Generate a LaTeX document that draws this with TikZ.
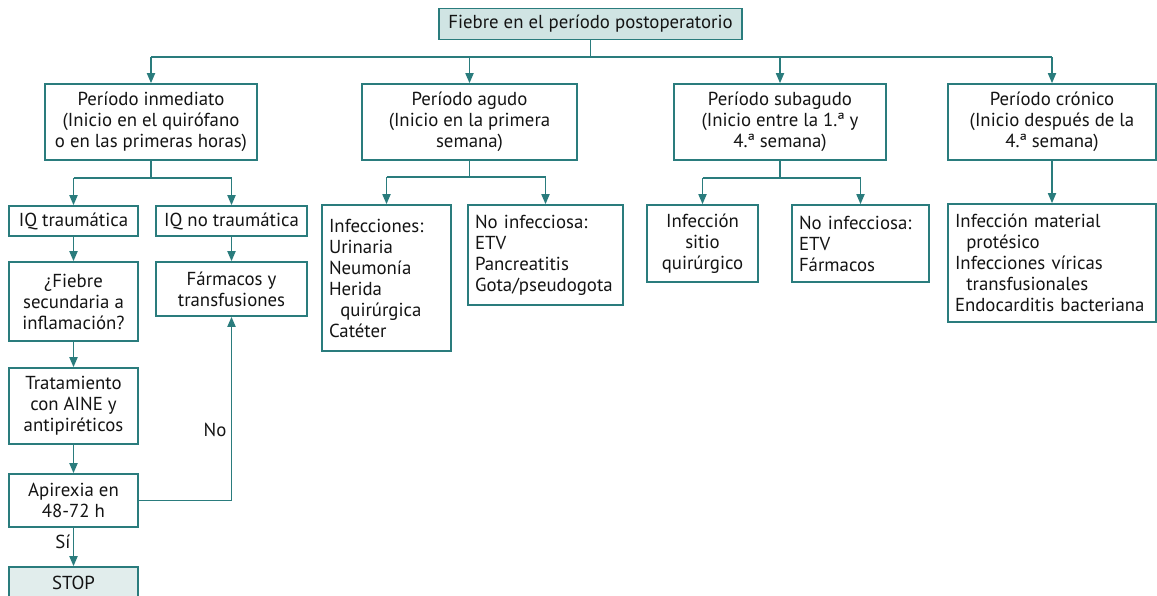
\documentclass[tikz,border=0pt]{standalone}
\usepackage{fontspec}
\setmainfont{PT Sans}
\usetikzlibrary{arrows.meta}
\definecolor{tealline}{HTML}{2A7C7D}
\definecolor{tealfill}{HTML}{D0E4E3}
\definecolor{stopfill}{HTML}{E1EDEC}
\definecolor{ink}{HTML}{141414}

\begin{document}
\begin{tikzpicture}[x=1pt,y=-1pt,
  box/.style={draw=tealline, line width=1.6pt, fill=white, text=ink,
    font=\fontsize{18.8}{21}\selectfont, inner sep=0pt},
  cbox/.style={box, align=center},
  lbox/.style={box, align=left, inner xsep=7pt},
  link/.style={draw=tealline, line width=1.7pt},
  arr/.style={link, -{Triangle[length=10pt,width=8pt]}},
  lbl/.style={text=ink, font=\fontsize{18.8}{21}\selectfont, inner sep=0pt}
]
\useasboundingbox (0,0) rectangle (1157,595);

% root
\node[cbox, fill=tealfill, minimum width=303pt, minimum height=31pt] (top) at (590.5,24)
  {Fiebre en el período postoperatorio};

% periods
\node[cbox, minimum width=212pt, minimum height=76pt] (b1) at (151,122)
  {Período inmediato\\(Inicio en el quirófano\\o en las primeras horas)};
\node[cbox, minimum width=215pt, minimum height=76pt] (b2) at (469.5,122)
  {Período agudo\\(Inicio en la primera\\semana)};
\node[cbox, minimum width=212pt, minimum height=76pt] (b3) at (780,122)
  {Período subagudo\\(Inicio entre la 1.ª y\\4.ª semana)};
\node[cbox, minimum width=208pt, minimum height=76pt] (b4) at (1052,122)
  {Período crónico\\(Inicio después de la\\4.ª semana)};

% immediate period branch
\node[cbox, minimum width=129pt, minimum height=30pt] (iqt) at (73.5,221) {IQ traumática};
\node[cbox, minimum width=151pt, minimum height=30pt] (iqnt) at (231.5,221) {IQ no traumática};
\node[cbox, minimum width=129pt, minimum height=79pt] (fieb) at (73.5,301.5)
  {¿Fiebre\\secundaria a\\inflamación?};
\node[cbox, minimum width=151pt, minimum height=54pt] (farm) at (231.5,289)
  {Fármacos y\\transfusiones};
\node[cbox, minimum width=129pt, minimum height=76pt] (trat) at (73.5,406)
  {Tratamiento\\con AINE y\\antipiréticos};
\node[cbox, minimum width=129pt, minimum height=53pt] (apir) at (73.5,500.5)
  {Apirexia en\\48-72 h};
\node[cbox, fill=stopfill, minimum width=129pt, minimum height=36pt] (stop) at (73.5,585) {};
\node[lbl] (stoptxt) at (73.5,583) {STOP};

% acute period branch
\node[lbox, text width=115pt, minimum height=146pt] (inf) at (386.5,278)
  {Infecciones:\\Urinaria\\Neumonía\\Herida\\\hspace*{0.6em}quirúrgica\\Catéter};
\node[lbox, text width=141pt, minimum height=100pt] (noinfa) at (545.5,255)
  {No infecciosa:\\ETV\\Pancreatitis\\Gota/pseudogota};

% subacute period branch
\node[cbox, minimum width=111pt, minimum height=77pt] (sitio) at (702.5,243.5)
  {Infección\\sitio\\quirúrgico};
\node[lbox, text width=123pt, minimum height=77pt] (noinfs) at (860.5,243.5)
  {No infecciosa:\\ETV\\Fármacos};

% chronic period branch
\node[lbox, text width=194pt, minimum height=118pt] (cron) at (1052,263)
  {Infección material\\\hspace*{0.6em}protésico\\Infecciones víricas\\\hspace*{0.6em}transfusionales\\Endocarditis bacteriana};

% bus lines
\coordinate (bus0) at (0,57);
\coordinate (bus1) at (0,178);
\coordinate (bus2) at (0,177);

\draw[link] (top.south) -- (top.south |- bus0);
\draw[link] (b1.north |- bus0) -- (b4.north |- bus0);
\foreach \n in {b1,b2,b3,b4}
  \draw[arr] (\n.north |- bus0) -- (\n.north);

\draw[link] (b1.south) -- (b1.south |- bus1);
\draw[link] (iqt.north |- bus1) -- (iqnt.north |- bus1);
\draw[arr] (iqt.north |- bus1) -- (iqt.north);
\draw[arr] (iqnt.north |- bus1) -- (iqnt.north);

\draw[link] (b2.south) -- (b2.south |- bus2);
\draw[link] (inf.north |- bus2) -- (noinfa.north |- bus2);
\draw[arr] (inf.north |- bus2) -- (inf.north);
\draw[arr] (noinfa.north |- bus2) -- (noinfa.north);

\draw[link] (b3.south) -- (b3.south |- bus1);
\draw[link] (sitio.north |- bus1) -- (noinfs.north |- bus1);
\draw[arr] (sitio.north |- bus1) -- (sitio.north);
\draw[arr] (noinfs.north |- bus1) -- (noinfs.north);

\draw[arr] (b4.south) -- (cron.north);

\draw[arr] (iqt) -- (fieb);
\draw[arr] (iqnt) -- (farm);
\draw[arr] (fieb) -- (trat);
\draw[arr] (trat) -- (apir);
\draw[arr] (apir) -- (stop);
\draw[arr] (apir.east) -| (farm.south);

\node[lbl] (no) at (215,430) {No};
\node[lbl] (si) at (63,542) {Sí};
\end{tikzpicture}
\end{document}
